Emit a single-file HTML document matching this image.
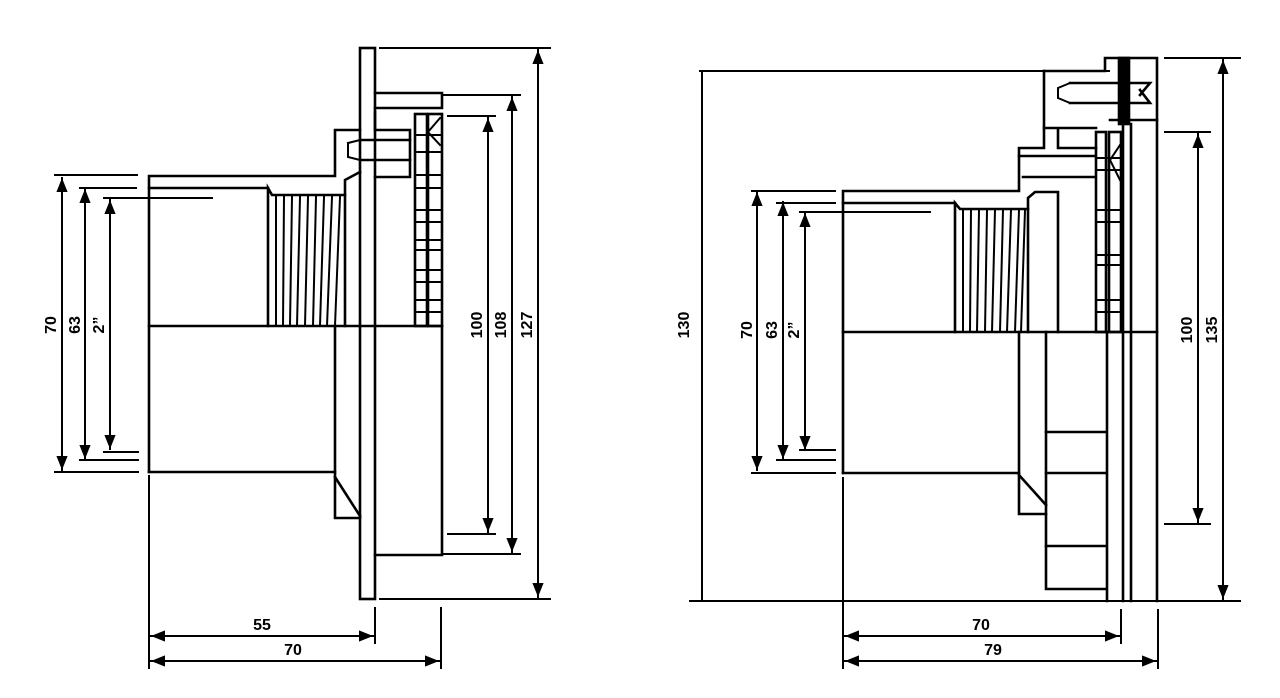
<!DOCTYPE html>
<html><head><meta charset="utf-8"><style>
html,body{margin:0;padding:0;background:#fff;}
svg{display:block}
text{font-family:"Liberation Sans",sans-serif;font-weight:bold;font-size:16px;fill:#000}
</style></head><body>
<svg width="1280" height="698" viewBox="0 0 1280 698" xmlns="http://www.w3.org/2000/svg">
<defs>
<marker id="a" viewBox="0 0 10 10" refX="10" refY="5" markerWidth="7" markerHeight="7" orient="auto-start-reverse"><path d="M0,1 L10,5 L0,9 z" fill="#000"/></marker>
</defs>
<g stroke="#000" stroke-width="2.6" fill="none" stroke-linecap="square">
<line x1="62" y1="178" x2="62" y2="470" marker-start="url(#a)" marker-end="url(#a)" stroke-width="2"/>
<line x1="85" y1="189" x2="85" y2="459" marker-start="url(#a)" marker-end="url(#a)" stroke-width="2"/>
<line x1="110" y1="200" x2="110" y2="449" marker-start="url(#a)" marker-end="url(#a)" stroke-width="2"/>
<line x1="55" y1="175" x2="137" y2="175" stroke-width="2"/>
<line x1="80" y1="188" x2="136" y2="188" stroke-width="2"/>
<line x1="104" y1="198" x2="212" y2="198" stroke-width="2"/>
<line x1="104" y1="452" x2="138" y2="452" stroke-width="2"/>
<line x1="80" y1="460" x2="138" y2="460" stroke-width="2"/>
<line x1="55" y1="472" x2="138" y2="472" stroke-width="2"/>
<path d="M149,472 L149,176 L335,176 L335,130 L360,130"/>
<line x1="149" y1="188" x2="268" y2="188"/>
<line x1="149" y1="326" x2="442" y2="326"/>
<line x1="149" y1="472" x2="335" y2="472"/>
<path d="M268,326 L268,188 L272,195 L345,195 L345,326"/>
<path d="M345,195 L345,180 L360,172"/>
<g stroke-width="2">
<line x1="276" y1="197" x2="276" y2="326"/><line x1="284" y1="197" x2="283" y2="326"/>
<line x1="292" y1="197" x2="290" y2="326"/><line x1="300" y1="197" x2="297" y2="326"/>
<line x1="308" y1="197" x2="305" y2="326"/><line x1="316" y1="197" x2="313" y2="326"/>
<line x1="324" y1="197" x2="320" y2="326"/><line x1="332" y1="197" x2="327" y2="326"/>
<line x1="340" y1="197" x2="335" y2="326"/>
</g>
<rect x="360" y="48" width="15" height="551"/>
<path d="M375,93 L442,93 L442,108 L375,108"/>
<path d="M375,112 L375,130 L410,130 L410,177 L375,177"/>
<path d="M362,140 L410,140 M362,160 L410,160"/>
<path d="M348,143 L360,140 M348,143 L348,157 L360,160" stroke-width="2"/>
<rect x="415" y="114" width="12" height="212"/>
<rect x="428" y="114" width="14" height="212"/>
<g stroke-width="2">
<line x1="415" y1="135" x2="442" y2="135"/><line x1="415" y1="152" x2="442" y2="152"/>
<line x1="415" y1="175" x2="442" y2="175"/><line x1="415" y1="188" x2="442" y2="188"/>
<line x1="415" y1="210" x2="442" y2="210"/><line x1="415" y1="222" x2="442" y2="222"/>
<line x1="415" y1="240" x2="442" y2="240"/><line x1="415" y1="250" x2="442" y2="250"/>
<line x1="415" y1="270" x2="442" y2="270"/><line x1="415" y1="282" x2="442" y2="282"/>
<line x1="415" y1="300" x2="442" y2="300"/><line x1="415" y1="312" x2="442" y2="312"/>
<line x1="428" y1="132" x2="440" y2="118"/><line x1="428" y1="132" x2="440" y2="145"/>
</g>
<path d="M335,326 L335,518 L360,518"/>
<line x1="335" y1="477" x2="360" y2="516"/>
<path d="M375,555 L442,555 L442,326"/>
<line x1="448" y1="116" x2="495" y2="116" stroke-width="2"/>
<line x1="448" y1="534" x2="495" y2="534" stroke-width="2"/>
<line x1="488" y1="118" x2="488" y2="532" marker-start="url(#a)" marker-end="url(#a)" stroke-width="2"/>
<line x1="443" y1="95" x2="520" y2="95" stroke-width="2"/>
<line x1="443" y1="554" x2="520" y2="554" stroke-width="2"/>
<line x1="512" y1="97" x2="512" y2="552" marker-start="url(#a)" marker-end="url(#a)" stroke-width="2"/>
<line x1="380" y1="48" x2="550" y2="48" stroke-width="2"/>
<line x1="380" y1="599" x2="550" y2="599" stroke-width="2"/>
<line x1="538" y1="50" x2="538" y2="597" marker-start="url(#a)" marker-end="url(#a)" stroke-width="2"/>
<line x1="149" y1="476" x2="149" y2="668" stroke-width="2"/>
<line x1="375" y1="608" x2="375" y2="643" stroke-width="2"/>
<line x1="441" y1="608" x2="441" y2="668" stroke-width="2"/>
<line x1="151" y1="636" x2="373" y2="636" marker-start="url(#a)" marker-end="url(#a)" stroke-width="2"/>
<line x1="151" y1="661" x2="439" y2="661" marker-start="url(#a)" marker-end="url(#a)" stroke-width="2"/>

<line x1="702" y1="72" x2="702" y2="600" stroke-width="2"/>
<line x1="700" y1="71" x2="1109" y2="71" stroke-width="2"/>
<line x1="690" y1="601" x2="1160" y2="601" stroke-width="2"/>
<line x1="757" y1="192" x2="757" y2="470" marker-start="url(#a)" marker-end="url(#a)" stroke-width="2"/>
<line x1="783" y1="202" x2="783" y2="459" marker-start="url(#a)" marker-end="url(#a)" stroke-width="2"/>
<line x1="805" y1="213" x2="805" y2="450" marker-start="url(#a)" marker-end="url(#a)" stroke-width="2"/>
<line x1="752" y1="191" x2="835" y2="191" stroke-width="2"/>
<line x1="777" y1="203" x2="835" y2="203" stroke-width="2"/>
<line x1="800" y1="212" x2="930" y2="212" stroke-width="2"/>
<line x1="800" y1="450" x2="835" y2="450" stroke-width="2"/>
<line x1="777" y1="460" x2="835" y2="460" stroke-width="2"/>
<line x1="752" y1="473" x2="835" y2="473" stroke-width="2"/>
<path d="M843,473 L843,191 L1019,191 L1019,148 L1044,148 L1044,71"/>
<line x1="843" y1="203" x2="955" y2="203"/>
<line x1="843" y1="332" x2="1157" y2="332"/>
<line x1="843" y1="473" x2="1019" y2="473"/>
<path d="M955,332 L955,203 L960,209 L1028,209 L1028,332"/>
<path d="M1028,209 L1028,198 L1035,192 L1058,192 L1058,332"/>
<g stroke-width="2">
<line x1="963" y1="210" x2="963" y2="332"/><line x1="971" y1="210" x2="970" y2="332"/>
<line x1="979" y1="210" x2="977" y2="332"/><line x1="987" y1="210" x2="985" y2="332"/>
<line x1="995" y1="210" x2="992" y2="332"/><line x1="1003" y1="210" x2="1000" y2="332"/>
<line x1="1011" y1="210" x2="1007" y2="332"/><line x1="1019" y1="210" x2="1015" y2="332"/>
<line x1="1025" y1="210" x2="1021" y2="332"/>
</g>
<path d="M1044,71 L1105,71 L1105,58 L1157,58 L1157,601"/>
<rect x="1119" y="58" width="10" height="66" fill="#000"/>
<path d="M1070,83 L1150,83 L1140,95 M1070,103 L1150,103 L1140,90"/>
<path d="M1070,83 L1058,88 L1058,98 L1070,103" stroke-width="2"/>
<path d="M1044,128 L1096,128 M1058,128 L1058,148 L1096,148"/>
<path d="M1019,156 L1094,156 M1023,177 L1094,177"/>
<line x1="1110" y1="120" x2="1157" y2="120"/>
<rect x="1096" y="132" width="10" height="200"/>
<rect x="1109" y="132" width="12" height="200"/>
<g stroke-width="2">
<line x1="1096" y1="158" x2="1121" y2="158"/><line x1="1096" y1="170" x2="1121" y2="170"/>
<line x1="1096" y1="210" x2="1121" y2="210"/><line x1="1096" y1="222" x2="1121" y2="222"/>
<line x1="1096" y1="255" x2="1121" y2="255"/><line x1="1096" y1="265" x2="1121" y2="265"/>
<line x1="1096" y1="300" x2="1121" y2="300"/><line x1="1096" y1="312" x2="1121" y2="312"/>
<line x1="1110" y1="160" x2="1120" y2="145"/><line x1="1110" y1="160" x2="1120" y2="180"/>
</g>
<line x1="1107" y1="332" x2="1107" y2="601"/>
<line x1="1123" y1="124" x2="1123" y2="601"/>
<line x1="1131" y1="124" x2="1131" y2="601"/>
<path d="M1019,332 L1019,514 L1046,514 L1046,332"/>
<line x1="1019" y1="475" x2="1046" y2="505"/>
<path d="M1046,514 L1046,589 L1105,589"/>
<line x1="1046" y1="432" x2="1105" y2="432"/>
<line x1="1046" y1="473" x2="1105" y2="473"/>
<line x1="1046" y1="546" x2="1105" y2="546"/>
<line x1="1165" y1="132" x2="1210" y2="132" stroke-width="2"/>
<line x1="1165" y1="524" x2="1210" y2="524" stroke-width="2"/>
<line x1="1198" y1="134" x2="1198" y2="522" marker-start="url(#a)" marker-end="url(#a)" stroke-width="2"/>
<line x1="1165" y1="58" x2="1240" y2="58" stroke-width="2"/>
<line x1="1223" y1="60" x2="1223" y2="599" marker-start="url(#a)" marker-end="url(#a)" stroke-width="2"/>
<line x1="1162" y1="601" x2="1240" y2="601" stroke-width="2"/>
<line x1="843" y1="478" x2="843" y2="668" stroke-width="2"/>
<line x1="1121" y1="610" x2="1121" y2="643" stroke-width="2"/>
<line x1="1158" y1="610" x2="1158" y2="668" stroke-width="2"/>
<line x1="845" y1="636" x2="1119" y2="636" marker-start="url(#a)" marker-end="url(#a)" stroke-width="2"/>
<line x1="845" y1="661" x2="1156" y2="661" marker-start="url(#a)" marker-end="url(#a)" stroke-width="2"/>
</g>
<text x="262" y="630" text-anchor="middle">55</text>
<text x="293" y="655" text-anchor="middle">70</text>
<text x="981" y="630" text-anchor="middle">70</text>
<text x="993" y="655" text-anchor="middle">79</text>
<g text-anchor="middle">
<text transform="translate(56,325) rotate(-90)">70</text>
<text transform="translate(80,325) rotate(-90)">63</text>
<text transform="translate(104,325) rotate(-90)">2”</text>
<text transform="translate(482,325) rotate(-90)">100</text>
<text transform="translate(506,325) rotate(-90)">108</text>
<text transform="translate(532,325) rotate(-90)">127</text>
<text transform="translate(689,325) rotate(-90)">130</text>
<text transform="translate(752,330) rotate(-90)">70</text>
<text transform="translate(777,330) rotate(-90)">63</text>
<text transform="translate(799,330) rotate(-90)">2”</text>
<text transform="translate(1192,330) rotate(-90)">100</text>
<text transform="translate(1217,330) rotate(-90)">135</text>
</g>
</svg>
</body></html>
